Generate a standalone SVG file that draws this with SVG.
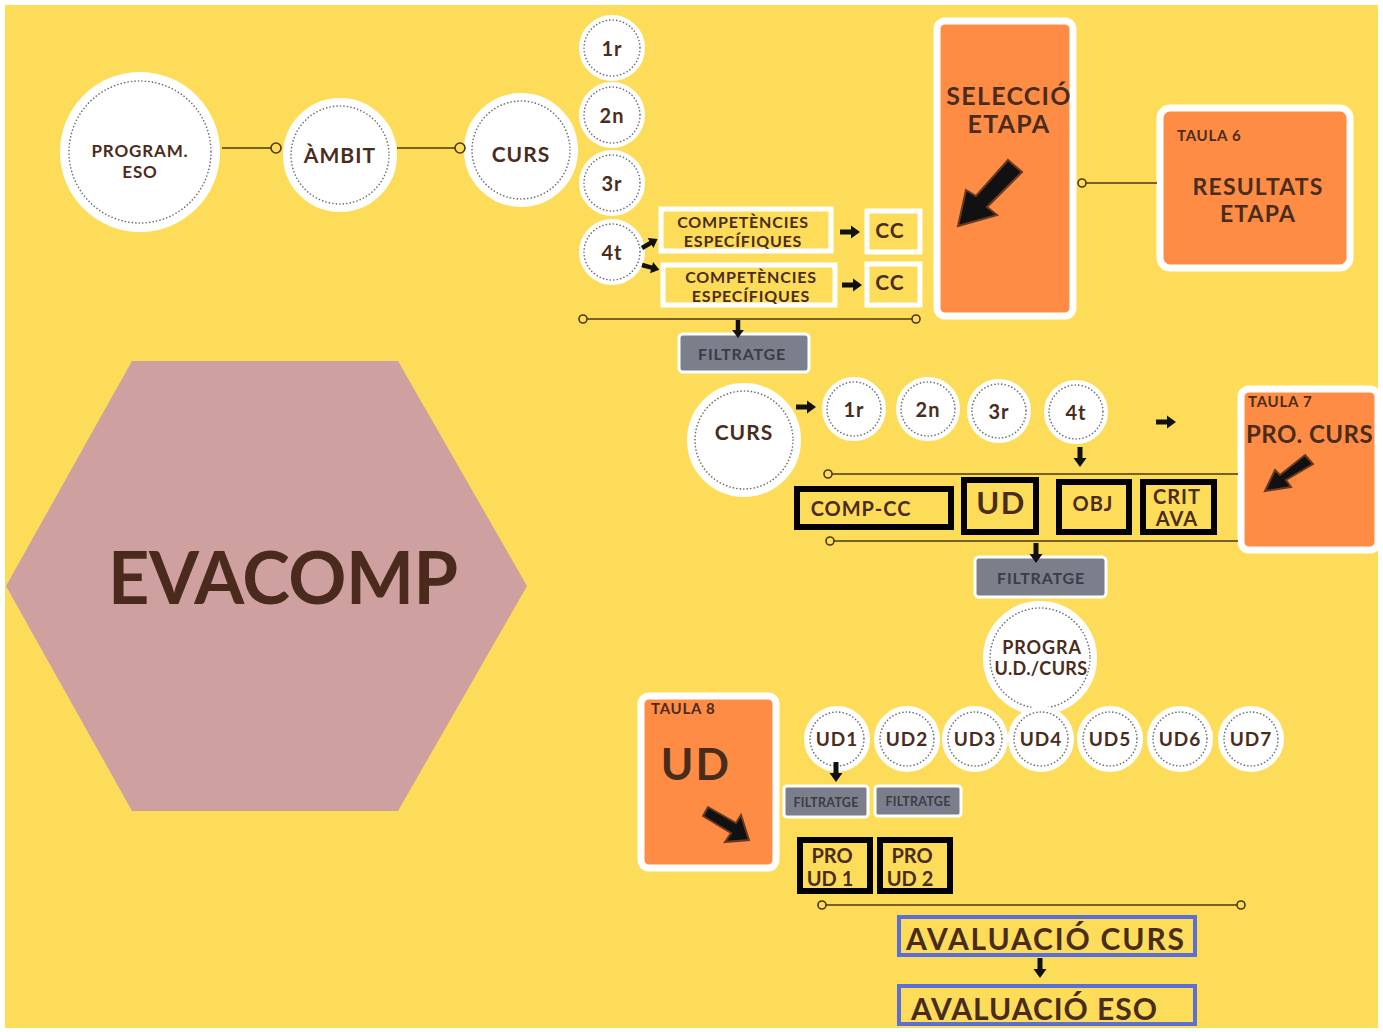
<svg xmlns="http://www.w3.org/2000/svg" width="1383" height="1032" viewBox="0 0 1383 1032">
<defs>
<style>
text{font-family:Lato,"Noto Sans","Liberation Sans",sans-serif;font-weight:700;fill:#4a2c1c;text-anchor:middle;letter-spacing:0.05em}
.bub{fill:#fff;stroke:#fff;stroke-width:4}
.dot{fill:none;stroke:#6b6b78;stroke-width:1.6;stroke-dasharray:0.1 3.4;stroke-linecap:round}
.wbox{fill:none;stroke:#fff;stroke-width:5}
.kbox{fill:none;stroke:#000;stroke-width:6}
.bbox{fill:none;stroke:#5b6fd6;stroke-width:4}
.org{fill:#fe8c45;stroke:#fff;stroke-width:7}
.filt{fill:#7b7f8c;stroke:#fff;stroke-width:3}
.ftx{fill:#3c3c46;font-size:16px}
.ln{stroke:#4a3818;stroke-width:1.6;fill:none}
.end{fill:#fddc5a;stroke:#4a3818;stroke-width:1.6}
.blk{fill:#111}
.big3d{fill:#111;stroke:#6a3a20;stroke-width:2}
</style>
<path id="ar" d="M0,-2.5 H11 V-6.5 L20,0 L11,6.5 V2.5 H0 Z"/>
</defs>
<rect x="0" y="0" width="1383" height="1032" fill="#fff"/>
<rect x="5" y="5" width="1373" height="1023" fill="#fddc5a"/>

<g id="hex">
<polygon points="132,361 398,361 527,586 398,811 132,811 6,586" fill="#cfa0a0"/>
<text x="283" y="604" style="font-size:72px;fill:#4a2a1c;letter-spacing:0" textLength="350">EVACOMP</text>
</g>

<g id="program-eso"><circle class="bub" cx="140" cy="152" r="78"/><circle class="dot" cx="140" cy="152" r="71"/>
<text x="140" y="157" style="font-size:17px">PROGRAM.</text><text x="140" y="178" style="font-size:17px">ESO</text></g>
<g id="ambit"><circle class="bub" cx="340" cy="155" r="55"/><circle class="dot" cx="340" cy="155" r="49"/>
<text x="340" y="163" style="font-size:21px">ÀMBIT</text></g>
<g id="curs1"><circle class="bub" cx="521" cy="150" r="55"/><circle class="dot" cx="521" cy="150" r="49"/>
<text x="521" y="162" style="font-size:21px">CURS</text></g>

<g id="c1r"><circle class="bub" cx="612" cy="48" r="31"/><circle class="dot" cx="612" cy="48" r="28"/><text x="612" y="56" style="font-size:20px">1r</text></g>
<g id="c2n"><circle class="bub" cx="612" cy="115" r="31"/><circle class="dot" cx="612" cy="115" r="28"/><text x="612" y="123" style="font-size:20px">2n</text></g>
<g id="c3r"><circle class="bub" cx="612" cy="183" r="31"/><circle class="dot" cx="612" cy="183" r="28"/><text x="612" y="191" style="font-size:20px">3r</text></g>
<g id="c4t"><circle class="bub" cx="612" cy="252" r="31"/><circle class="dot" cx="612" cy="252" r="28"/><text x="612" y="260" style="font-size:20px">4t</text></g>

<g id="comp1"><rect class="wbox" x="661" y="209" width="170" height="42"/>
<text x="743" y="228" style="font-size:16px">COMPETÈNCIES</text><text x="743" y="247" style="font-size:16px">ESPECÍFIQUES</text></g>
<g id="comp2"><rect class="wbox" x="663" y="265" width="172" height="40"/>
<text x="751" y="283" style="font-size:16px">COMPETÈNCIES</text><text x="751" y="302" style="font-size:16px">ESPECÍFIQUES</text></g>
<g id="cc1"><rect class="wbox" x="867" y="211" width="53" height="41"/><text x="890" y="238" style="font-size:21px">CC</text></g>
<g id="cc2"><rect class="wbox" x="867" y="264" width="53" height="41"/><text x="890" y="290" style="font-size:21px">CC</text></g>

<g id="filt1"><rect class="filt" x="679" y="334" width="130" height="38" rx="4"/><text class="ftx" x="742" y="360">FILTRATGE</text></g>

<g id="seleccio"><rect class="org" x="937" y="21" width="136" height="295" rx="8"/>
<text x="1009" y="105" style="font-size:25px">SELECCIÓ</text><text x="1009" y="133" style="font-size:25px">ETAPA</text>
<path class="big3d" d="M1008,160 L1022,172 L987,207 L997,215 L958,226 L966,190 L976,196 Z"/></g>

<g id="taula6"><rect class="org" x="1160" y="108" width="190" height="160" rx="10"/>
<text x="1177" y="141" style="font-size:15px;text-anchor:start">TAULA  6</text>
<text x="1258" y="195" style="font-size:23px">RESULTATS</text><text x="1258" y="222" style="font-size:23px">ETAPA</text></g>

<g id="curs2"><circle class="bub" cx="744" cy="440" r="55"/><circle class="dot" cx="744" cy="440" r="49"/>
<text x="744" y="440" style="font-size:21px">CURS</text></g>
<g id="m1r"><circle class="bub" cx="854" cy="409" r="30"/><circle class="dot" cx="854" cy="409" r="27"/><text x="854" y="417" style="font-size:20px">1r</text></g>
<g id="m2n"><circle class="bub" cx="928" cy="409" r="30"/><circle class="dot" cx="928" cy="409" r="27"/><text x="928" y="417" style="font-size:20px">2n</text></g>
<g id="m3r"><circle class="bub" cx="999" cy="411" r="30"/><circle class="dot" cx="999" cy="411" r="27"/><text x="999" y="419" style="font-size:20px">3r</text></g>
<g id="m4t"><circle class="bub" cx="1076" cy="412" r="30"/><circle class="dot" cx="1076" cy="412" r="27"/><text x="1076" y="420" style="font-size:20px">4t</text></g>

<g id="compcc"><rect class="kbox" x="797" y="489" width="154" height="38"/><text x="861" y="516" style="font-size:20px">COMP-CC</text></g>
<g id="ud-box"><rect class="kbox" x="964" y="480" width="72" height="52"/><text x="1001" y="514" style="font-size:31px">UD</text></g>
<g id="obj"><rect class="kbox" x="1059" y="482" width="70" height="50"/><text x="1093" y="511" style="font-size:20px">OBJ</text></g>
<g id="critava"><rect class="kbox" x="1143" y="482" width="71" height="50"/><text x="1177" y="504" style="font-size:20px">CRIT</text><text x="1177" y="526" style="font-size:20px">AVA</text></g>

<g id="filt2"><rect class="filt" x="975" y="557" width="131" height="40" rx="4"/><text class="ftx" x="1041" y="584">FILTRATGE</text></g>

<g id="taula7"><rect class="org" x="1241" y="389" width="137" height="161" rx="8"/>
<text x="1248" y="407" style="font-size:15px;text-anchor:start">TAULA 7</text>
<text x="1246" y="443" style="font-size:24px;text-anchor:start;letter-spacing:0.02em">PRO. CURS</text>
<path class="big3d" d="M1305,455 L1313,464 L1286,480 L1291,487 L1265,491 L1275,470 L1280,475 Z"/></g>

<g id="progra"><circle class="bub" cx="1040" cy="658" r="55"/><circle class="dot" cx="1040" cy="658" r="50"/>
<text x="1042" y="654" style="font-size:18px">PROGRA</text><text x="1041" y="675" style="font-size:18px;letter-spacing:0.02em">U.D./CURS</text></g>

<g id="ud1"><circle class="bub" cx="837" cy="739" r="31"/><circle class="dot" cx="837" cy="739" r="27"/><text x="837" y="746" style="font-size:19px">UD1</text></g>
<g id="ud2"><circle class="bub" cx="907" cy="739" r="31"/><circle class="dot" cx="907" cy="739" r="27"/><text x="907" y="746" style="font-size:19px">UD2</text></g>
<g id="ud3"><circle class="bub" cx="975" cy="739" r="31"/><circle class="dot" cx="975" cy="739" r="27"/><text x="975" y="746" style="font-size:19px">UD3</text></g>
<g id="ud4"><circle class="bub" cx="1041" cy="739" r="31"/><circle class="dot" cx="1041" cy="739" r="27"/><text x="1041" y="746" style="font-size:19px">UD4</text></g>
<g id="ud5"><circle class="bub" cx="1110" cy="739" r="31"/><circle class="dot" cx="1110" cy="739" r="27"/><text x="1110" y="746" style="font-size:19px">UD5</text></g>
<g id="ud6"><circle class="bub" cx="1180" cy="739" r="31"/><circle class="dot" cx="1180" cy="739" r="27"/><text x="1180" y="746" style="font-size:19px">UD6</text></g>
<g id="ud7"><circle class="bub" cx="1251" cy="739" r="31"/><circle class="dot" cx="1251" cy="739" r="27"/><text x="1251" y="746" style="font-size:19px">UD7</text></g>

<g id="filt3"><rect class="filt" x="784" y="786" width="84" height="31" rx="3"/><text class="ftx" x="826" y="807" style="font-size:12.5px;letter-spacing:0.02em">FILTRATGE</text></g>
<g id="filt4"><rect class="filt" x="875" y="786" width="86" height="30" rx="3"/><text class="ftx" x="918" y="806" style="font-size:12.5px;letter-spacing:0.02em">FILTRATGE</text></g>

<g id="proud1"><rect class="kbox" x="800" y="840" width="70" height="51"/><text x="832" y="863" style="font-size:20px;letter-spacing:0">PRO</text><text x="830" y="886" style="font-size:20px;letter-spacing:0">UD 1</text></g>
<g id="proud2"><rect class="kbox" x="880" y="840" width="70" height="51"/><text x="912" y="863" style="font-size:20px;letter-spacing:0">PRO</text><text x="910" y="886" style="font-size:20px;letter-spacing:0">UD 2</text></g>

<g id="taula8"><rect class="org" x="641" y="696" width="135" height="172" rx="8"/>
<text x="651" y="714" style="font-size:15px;text-anchor:start">TAULA 8</text>
<text x="696" y="780" style="font-size:44px">UD</text>
<path class="big3d" d="M703,816 L708,807 L736,823 L741,815 L749,840 L725,842 L731,833 Z"/></g>

<g id="aval-curs"><rect class="bbox" x="899" y="917" width="296" height="38"/><text x="1045" y="950" style="font-size:30px;letter-spacing:0" textLength="278">AVALUACIÓ CURS</text></g>
<g id="aval-eso"><rect class="bbox" x="899" y="986" width="296" height="38"/><text x="1034" y="1020" style="font-size:30px;letter-spacing:0" textLength="246">AVALUACIÓ ESO</text></g>

<g id="connectors">
<line class="ln" x1="222" y1="148" x2="271" y2="148"/><circle class="end" cx="276" cy="148" r="5"/>
<line class="ln" x1="397" y1="148" x2="455" y2="148"/><circle class="end" cx="460" cy="148" r="5"/>
<line class="ln" x1="587" y1="319" x2="912" y2="319"/><circle class="end" cx="583" cy="319" r="4"/><circle class="end" cx="916" cy="319" r="4"/>
<line class="ln" x1="1086" y1="183" x2="1157" y2="183"/><circle class="end" cx="1082" cy="183" r="4"/>
<line class="ln" x1="832" y1="474" x2="1238" y2="474"/><circle class="end" cx="828" cy="474" r="4"/>
<line class="ln" x1="834" y1="541" x2="1238" y2="541"/><circle class="end" cx="830" cy="541" r="4"/>
<line class="ln" x1="826" y1="905" x2="1237" y2="905"/><circle class="end" cx="822" cy="905" r="4"/><circle class="end" cx="1241" cy="905" r="4"/>
<use href="#ar" class="blk" transform="translate(642,248) rotate(-30) scale(0.9)"/>
<use href="#ar" class="blk" transform="translate(642,265) rotate(15) scale(0.9)"/>
<use href="#ar" class="blk" transform="translate(840,232)"/>
<use href="#ar" class="blk" transform="translate(842,285)"/>
<use href="#ar" class="blk" transform="translate(738,320) rotate(90) scale(0.9)"/>
<use href="#ar" class="blk" transform="translate(796,407)"/>
<use href="#ar" class="blk" transform="translate(1156,422)"/>
<use href="#ar" class="blk" transform="translate(1080,447) rotate(90)"/>
<use href="#ar" class="blk" transform="translate(1036,543) rotate(90)"/>
<use href="#ar" class="blk" transform="translate(836,762) rotate(90)"/>
<use href="#ar" class="blk" transform="translate(1040,958) rotate(90)"/>
</g>
</svg>
